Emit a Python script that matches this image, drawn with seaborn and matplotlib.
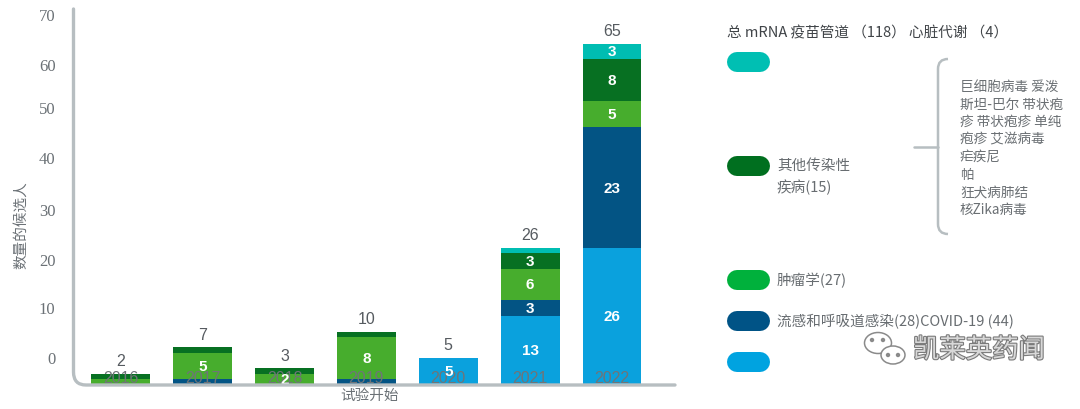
import numpy as np
import pandas as pd
import matplotlib.pyplot as plt
import seaborn as sns
from matplotlib.path import Path
from matplotlib.patches import PathPatch, Ellipse
from matplotlib.lines import Line2D
import matplotlib.patheffects as pe

# data (bottom to top of each stack)
years = ['2016', '2017', '2018', '2019', '2020', '2021', '2022']
covid = [0, 0, 0, 0, 5, 13, 26]
flu = [0, 1, 0, 1, 0, 3, 23]
oncology = [1, 5, 2, 8, 0, 6, 5]
other_inf = [1, 1, 1, 1, 0, 3, 8]
cardio = [0, 0, 0, 0, 0, 1, 3]

# y tick labels sit where the original picture puts them
ytick_pos = [5.2, 14.7, 23.9, 33.4, 43.3, 52.9, 61.1, 70.6]
ytick_lab = ['0', '10', '20', '30', '40', '50', '60', '70']

header = '总 mRNA 疫苗管道 （118） 心脏代谢 （4）'
legend_labels = ['', '其他传染性\n疾病(15)', '肿瘤学(27)', '流感和呼吸道感染(28)COVID-19 (44)', '']
other_list = ['巨细胞病毒 爱泼', '斯坦-巴尔 带状疱', '疹 带状疱疹 单纯', '疱疹 艾滋病毒',
              '疟疾尼', '帕', '狂犬病肺结', '核Zika病毒']

bar_colors = {'covid': '#0aa1dd', 'flu': '#035484', 'oncology': '#47ad2d',
              'other_inf': '#077022', 'cardio': '#00bdb2'}
pill_colors = ['#00bfb3', '#006f1f', '#00b13c', '#005386', '#00a3e0']

sns.set_style('white')
plt.rcParams['font.family'] = ['Noto Sans CJK SC', 'DejaVu Sans']

W, H = 1080, 410
def fx(p):
    return p / W
def fy(p):
    return 1 - p / H

fig = plt.figure(figsize=(10.8, 4.1), dpi=100)
ax = fig.add_axes([75 / W, 25 / H, 600 / W, 375 / H])

df = pd.DataFrame({'year': years, 'covid': covid, 'flu': flu, 'oncology': oncology,
                   'other_inf': other_inf, 'cardio': cardio})
layers = ['covid', 'flu', 'oncology', 'other_inf', 'cardio']
cum = df[layers].cumsum(axis=1)

# draw cumulative heights from the tallest down so each layer covers the one above
for col in reversed(layers):
    sns.barplot(x=df['year'], y=cum[col], color=bar_colors[col], saturation=1,
                width=0.72, ax=ax, linewidth=0)

for col in layers:
    for i, v in enumerate(df[col]):
        if v >= 2:
            ax.text(i, cum[col][i] - v / 2, str(v), ha='center', va='center',
                    color='white', fontsize=11, fontweight='bold', family='Liberation Sans')

totals = cum['cardio']
for i, t in enumerate(totals):
    ax.annotate(str(t), (i, t), xytext=(0, 4), textcoords='offset points',
                ha='center', va='bottom', fontsize=11.5, color='#565b60',
                family='Liberation Sans')

ax.set_axisbelow(False)
ax.set_xlim(-0.56, 6.77)
ax.set_ylim(0, 71.6)
ax.set_yticks(ytick_pos, ytick_lab)
ax.tick_params(axis='y', length=0, pad=14, labelsize=12, labelcolor='#6b7176')
for lab in ax.get_yticklabels():
    lab.set_family('Liberation Serif')
ax.set_xticks(range(len(years)), years)
ax.tick_params(axis='x', length=0, pad=-10, labelsize=11.5, labelcolor='#6f7478')
for lab in ax.get_xticklabels():
    lab.set_family('Liberation Sans')

ax.set_xlabel('试验开始', fontsize=10.5, color='#6b7176')
ax.xaxis.set_label_coords((370 - 75) / 600, (385 - 389) / 375)
ax.set_ylabel('数量的候选人', fontsize=10.5, color='#6b7176')
ax.yaxis.set_label_coords((28 - 75) / 600, (385 - 225) / 375)

sns.despine(ax=ax, left=True, bottom=True)

# rounded axis corner
def axp(px, py):
    return ((px - 75) / 600, (385 - py) / 375)
verts = [axp(73.5, 10), axp(73.5, 373), axp(73.5, 386), axp(86, 386), axp(675, 386)]
codes = [Path.MOVETO, Path.LINETO, Path.CURVE3, Path.CURVE3, Path.LINETO]
ax.add_patch(PathPatch(Path(verts, codes), fill=False, edgecolor='#b7bec1', lw=2.4,
                       transform=ax.transAxes, clip_on=False, zorder=5,
                       capstyle='round'))

# legend
fig.text(fx(727), fy(33), header, ha='left', va='center', fontsize=10.5, color='#404448')
pill_y = [63, 167, 281, 322, 363]
text_y = [63, 177, 281, 322, 363]
for y, ty, c, lab in zip(pill_y, text_y, pill_colors, legend_labels):
    fig.add_artist(Line2D([fx(737), fx(760)], [fy(y), fy(y)], lw=14.4, color=c,
                          solid_capstyle='round'))
    if lab:
        fig.text(fx(777), fy(ty), lab, ha='left', va='center', fontsize=10.5,
                 color='#686d71', linespacing=1.55)

# bracket with the list of other infectious diseases
bverts = [(fx(948), fy(60)), (fx(938), fy(60)), (fx(938), fy(70)), (fx(938), fy(225)),
          (fx(938), fy(235)), (fx(948), fy(235))]
bcodes = [Path.MOVETO, Path.CURVE3, Path.CURVE3, Path.LINETO, Path.CURVE3, Path.CURVE3]
fig.add_artist(PathPatch(Path(bverts, bcodes), fill=False, edgecolor='#b7bec1', lw=1.8,
                         transform=fig.transFigure))
fig.add_artist(Line2D([fx(914), fx(938)], [fy(148), fy(148)], lw=1.8, color='#b7bec1'))
for k, s in enumerate(other_list):
    fig.text(fx(960), fy(87 + 17.6 * k), s, ha='left', va='center', fontsize=9.8,
             color='#6a6f73')

# watermark
for cx, cy, w, h in [(878, 344, 27, 21), (893, 356, 24, 18)]:
    fig.add_artist(Ellipse((fx(cx), fy(cy)), w / W, h / H, facecolor='white',
                           edgecolor='#8a8a8a', lw=1.1, transform=fig.transFigure))
for dx, dy in [(872, 341), (883, 341), (888, 356), (898, 356)]:
    fig.add_artist(Ellipse((fx(dx), fy(dy)), 3 / W, 3 / H, color='#8a8a8a',
                           transform=fig.transFigure))
fig.text(fx(913), fy(351), '凯莱英药闻', ha='left', va='center', fontsize=19,
         color='#d8d8d8', path_effects=[pe.withStroke(linewidth=1.6, foreground='#7a7a7a')])

fig.savefig('out.png', dpi=100)
